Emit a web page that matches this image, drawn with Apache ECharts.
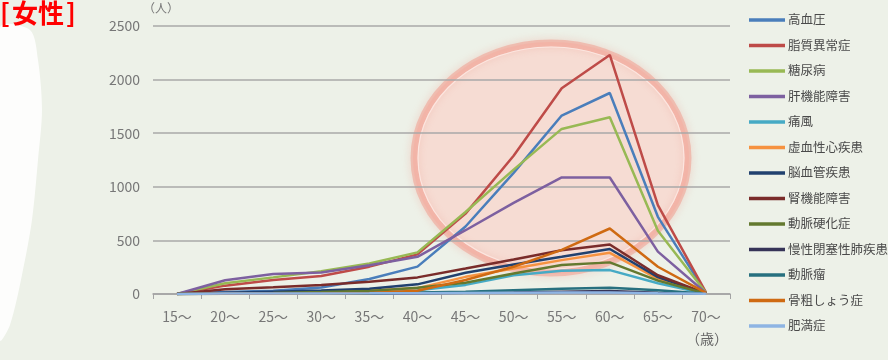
<!DOCTYPE html>
<html>
<head>
<meta charset="utf-8">
<script src="https://cdn.jsdelivr.net/npm/echarts@6/dist/echarts.min.js"></script>
<style>
  html, body { margin: 0; padding: 0; background: #edf1e8; }
  #chart { width: 888px; height: 360px; }
</style>
</head>
<body>
<div id="chart"></div>
<script>
// Age bands (x axis)
const ageBands = ['15～', '20～', '25～', '30～', '35～', '40～', '45～', '50～', '55～', '60～', '65～', '70～'];

// Patients per age band (women), one array per condition
const hypertension   = [0, 18, 30, 60, 140, 255, 630, 1130, 1665, 1875, 720, 10];
const dyslipidemia   = [0, 78, 130, 167, 255, 370, 750, 1290, 1920, 2230, 830, 15];
const diabetes       = [0, 100, 155, 212, 285, 388, 765, 1160, 1540, 1648, 590, 12];
const liverDisorder  = [0, 128, 186, 200, 268, 347, 595, 850, 1087, 1087, 395, 10];
const gout           = [0, 5, 8, 12, 18, 35, 85, 175, 217, 223, 100, 3];
const ischemicHeart  = [0, 8, 14, 20, 30, 55, 160, 238, 316, 384, 140, 5];
const cerebrovasc    = [0, 12, 22, 32, 48, 90, 198, 275, 347, 420, 158, 5];
const kidneyDisorder = [0, 44, 62, 84, 114, 155, 238, 322, 408, 462, 175, 6];
const arterioscler   = [0, 5, 10, 18, 28, 58, 105, 192, 270, 295, 125, 5];
const copd           = [0, 2, 3, 4, 5, 8, 12, 16, 22, 28, 12, 2];
const aneurysm       = [0, 2, 3, 5, 8, 14, 22, 35, 48, 58, 35, 3];
const osteoporosis   = [0, 2, 3, 5, 10, 30, 130, 254, 412, 611, 254, 10];
const obesity        = [0, 4, 5, 5, 6, 8, 10, 12, 14, 15, 8, 2];

const yTicks = { min: 0, max: 2500, interval: 500 };

const seriesDefs = [
  ['高血圧', hypertension, '#4a7ebb'],
  ['脂質異常症', dyslipidemia, '#be4b48'],
  ['糖尿病', diabetes, '#98b954'],
  ['肝機能障害', liverDisorder, '#7d60a0'],
  ['痛風', gout, '#46aac5'],
  ['虚血性心疾患', ischemicHeart, '#f69240'],
  ['脳血管疾患', cerebrovasc, '#21416f'],
  ['腎機能障害', kidneyDisorder, '#7a2c2a'],
  ['動脈硬化症', arterioscler, '#63792f'],
  ['慢性閉塞性肺疾患', copd, '#363458'],
  ['動脈瘤', aneurysm, '#27707f'],
  ['骨粗しょう症', osteoporosis, '#cf6a12'],
  ['肥満症', obesity, '#8eb4e3']
];

const FONT = '"Noto Sans CJK JP", "Noto Sans", sans-serif';

const chart = echarts.init(document.getElementById('chart'), null, { renderer: 'canvas' });

chart.setOption({
  backgroundColor: '#edf1e8',
  animation: false,
  textStyle: { fontFamily: FONT },
  graphic: [
    // soft white panel edge on the left
    {
      type: 'polygon', z: -10, silent: true,
      shape: {
        points: [[0, 28], [30, 30], [38, 60], [42, 110], [38, 160], [32, 220], [22, 275], [10, 325], [0, 340]],
        smooth: 0.3
      },
      style: { fill: 'rgba(255,255,255,0.85)' }
    },
    // highlighted peak region: pale fill
    {
      type: 'ellipse', z: -6, silent: true,
      shape: { cx: 551, cy: 158, rx: 138, ry: 116 },
      style: { fill: 'rgba(255,200,190,0.5)' }
    },
    // glowing rim
    {
      type: 'ellipse', z: -5, silent: true,
      shape: { cx: 551, cy: 158, rx: 137, ry: 115 },
      style: {
        fill: 'none',
        stroke: 'rgba(240,158,144,0.55)', lineWidth: 7,
        shadowBlur: 8, shadowColor: 'rgba(240,150,135,0.6)'
      }
    },
    {
      type: 'ellipse', z: -4, silent: true,
      shape: { cx: 551, cy: 158, rx: 133, ry: 111 },
      style: { fill: 'none', stroke: 'rgba(255,238,234,0.7)', lineWidth: 1.2 }
    },
    {
      type: 'text', left: 0, top: 0,
      style: { text: '[', fill: '#ff0000', font: 'bold 26px ' + FONT }
    },
    {
      type: 'text', left: 12, top: 0,
      style: { text: '女性', fill: '#ff0000', font: 'bold 26px ' + FONT }
    },
    {
      type: 'text', left: 66, top: 0,
      style: { text: ']', fill: '#ff0000', font: 'bold 26px ' + FONT }
    },
    {
      type: 'text', left: 143, top: 2,
      style: { text: '（人）', fill: '#777', font: '12px ' + FONT }
    },
    {
      type: 'text', left: 686, top: 332,
      style: { text: '（歳）', fill: '#666', font: '14px ' + FONT }
    }
  ],
  legend: {
    orient: 'vertical',
    left: 744, top: 8,
    itemWidth: 36, itemHeight: 12,
    itemGap: 13,
    icon: 'path://M0,5 L36,5 L36,8.5 L0,8.5 Z M0,0 M0,12',
    textStyle: { fontFamily: FONT, fontSize: 12.5, color: '#4a4a4a', padding: [0, 0, 0, -2] },
    data: seriesDefs.map(d => d[0])
  },
  grid: { left: 153, right: 158, top: 26, bottom: 66 },
  xAxis: {
    type: 'category',
    data: ageBands,
    boundaryGap: true,
    axisLine: { lineStyle: { color: '#a3a3a3', width: 1.5 } },
    axisTick: { show: true, length: 5, lineStyle: { color: '#a3a3a3' } },
    axisLabel: { color: '#777', fontSize: 14, margin: 16, fontFamily: FONT }
  },
  yAxis: {
    type: 'value',
    min: yTicks.min, max: yTicks.max, interval: yTicks.interval,
    axisLine: { show: false },
    axisTick: { show: false },
    axisLabel: { color: '#777', fontSize: 14, margin: 13, fontFamily: FONT, formatter: v => String(v) },
    splitLine: { lineStyle: { color: '#a8a8a8', width: 1.6 } }
  },
  series: seriesDefs.map(([name, data, color]) => ({
    name, type: 'line', data,
    symbol: 'none',
    lineStyle: { color, width: 2.5 },
    itemStyle: { color },
    emphasis: { disabled: true }
  }))
});
</script>
</body>
</html>
